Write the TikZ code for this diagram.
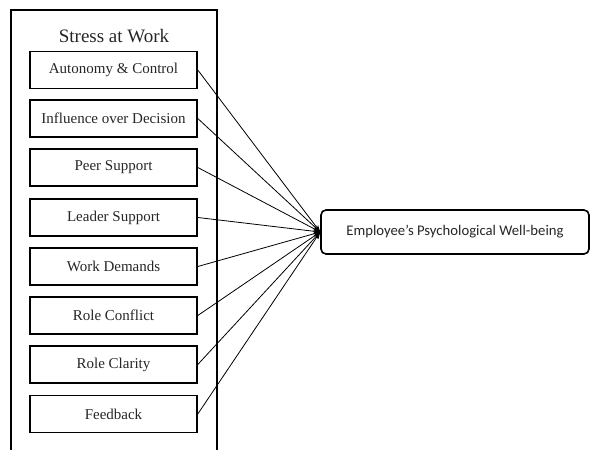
\documentclass[tikz,border=0pt]{standalone}
\usepackage{fontspec}
\setmainfont{Liberation Serif}
\newfontfamily\calib{Carlito}
\usetikzlibrary{arrows.meta}
\tikzset{
  factor/.style={draw, line width=1.6pt, minimum width=167pt, minimum height=37pt, inner sep=0pt,
    font=\fontsize{15}{18}\selectfont, text=black!85},
  outcome/.style={draw, line width=1.6pt, rounded corners=5pt, minimum width=268pt, minimum height=44pt,
    inner sep=0pt, font=\calib\fontsize{14.7}{17}\selectfont, text=black!85},
  link/.style={line width=0.8pt, -{Stealth[length=7pt,width=5pt]}}
}
\begin{document}
\begin{tikzpicture}[x=1pt,y=-1pt]
\useasboundingbox (0,0) rectangle (590,450);
\draw[line width=1.6pt] (11,450) -- (11,10) -- (217,10) -- (217,450);
\node[font=\fontsize{19}{22}\selectfont, text=black!85] (title) at (114,36) {Stress at Work};
\node[factor] (f1) at (113.5,70) {Autonomy \& Control};
\node[factor] (f2) at (113.5,118.5) {Influence over Decision};
\node[factor] (f3) at (113.5,167.5) {Peer Support};
\node[factor] (f4) at (113.5,217.5) {Leader Support};
\node[factor] (f5) at (113.5,266.5) {Work Demands};
\node[factor] (f6) at (113.5,315.5) {Role Conflict};
\node[factor] (f7) at (113.5,364.5) {Role Clarity};
\node[factor] (f8) at (113.5,414) {Feedback};
\node[outcome] (wb) at (455,232) {Employee’s Psychological Well-being};
\foreach \i in {1,...,8} {\draw[link] (f\i.east) -- (wb.west);}
\end{tikzpicture}
\end{document}
